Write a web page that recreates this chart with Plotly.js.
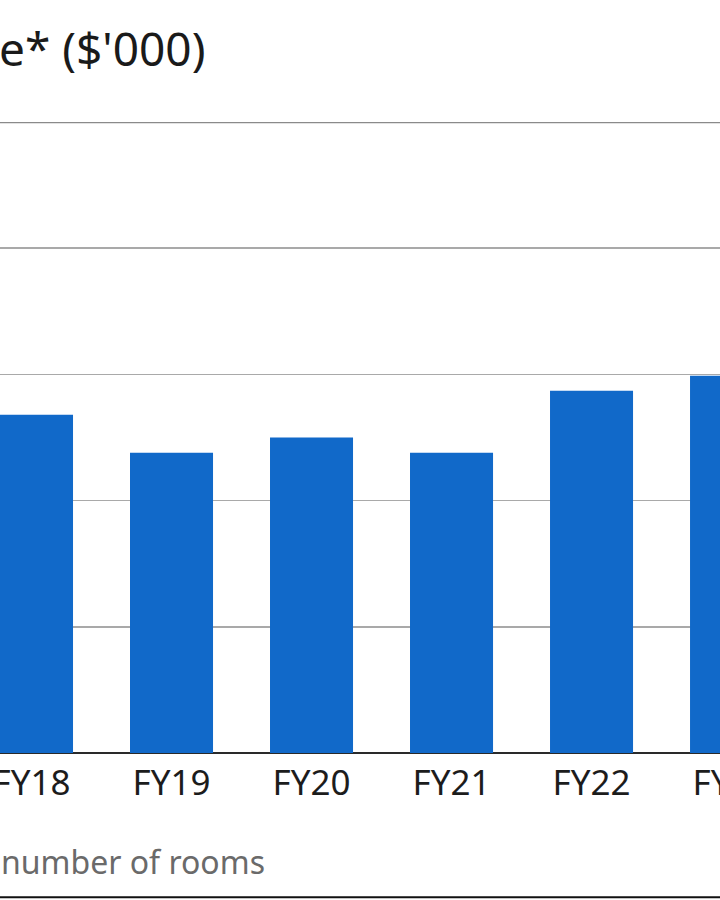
<!DOCTYPE html>
<html>
<head>
<meta charset="utf-8">
<script src="https://cdn.plot.ly/plotly-3.0.1.min.js"></script>
<style>
  html, body { margin: 0; padding: 0; background: #ffffff; overflow: hidden; }
  #frame { width: 720px; height: 900px; overflow: hidden; position: relative; }
  #chart { width: 860px; height: 900px; position: absolute; left: -60px; top: 0; }
</style>
</head>
<body>
<div id="frame"><div id="chart"></div></div>
<script>
// Data (the reference is a crop of a wider chart)
const categories = ["FY18", "FY19", "FY20", "FY21", "FY22", "FY23"];
const values = [268, 238, 250, 238, 287, 299];
const gridValues = [0, 100, 200, 300, 400, 500];
const titleText = "e* ($'000)";
const noteText = "number of rooms";

const FONT = "Noto Sans, Open Sans, sans-serif";

const trace = {
  type: "bar",
  x: categories,
  y: values,
  marker: { color: "#1169c9", line: { width: 0 } },
  hoverinfo: "x+y"
};

const layout = {
  width: 860,
  height: 900,
  margin: { l: 0, r: 0, t: 121.5, b: 146.5, pad: 0 },
  paper_bgcolor: "#ffffff",
  plot_bgcolor: "#ffffff",
  showlegend: false,
  bargap: 0.407,
  font: { family: FONT, color: "#1c1c1c" },
  xaxis: {
    type: "category",
    range: [-0.6536, 5.489],
    showgrid: false,
    showline: false,
    zeroline: false,
    ticks: "",
    tickfont: { family: FONT, size: 35, color: "#1c1c1c" },
    ticklabelstandoff: 6,
    fixedrange: true
  },
  yaxis: {
    range: [0, 500],
    tickvals: gridValues,
    showticklabels: false,
    showgrid: true,
    gridcolor: "#a9a9a9",
    gridwidth: 1.5,
    zeroline: true,
    zerolinecolor: "#2a2a2a",
    zerolinewidth: 1.5,
    showline: false,
    ticks: "",
    fixedrange: true
  },
  shapes: [
    { type: "line", xref: "paper", yref: "y", x0: 0, x1: 1, y0: 500, y1: 500,
      line: { color: "#8a8a8a", width: 2.5 } },
    { type: "line", xref: "paper", yref: "paper", x0: 0, x1: 1, y0: -0.2286, y1: -0.2286,
      line: { color: "#111111", width: 2 } }
  ],
  annotations: [
    { text: titleText, xref: "paper", yref: "paper", x: 0, y: 1, xanchor: "left", yanchor: "middle",
      xshift: 57, yshift: 74.5, showarrow: false,
      font: { family: FONT, size: 46, color: "#1a1a1a" } },
    { text: noteText, xref: "paper", yref: "paper", x: 0, y: 0, xanchor: "left", yanchor: "middle",
      xshift: 59, yshift: -108, showarrow: false,
      font: { family: FONT, size: 32, color: "#6a6a6a" } }
  ]
};

Plotly.newPlot("chart", [trace], layout, { displayModeBar: false, staticPlot: true });
</script>
</body>
</html>
